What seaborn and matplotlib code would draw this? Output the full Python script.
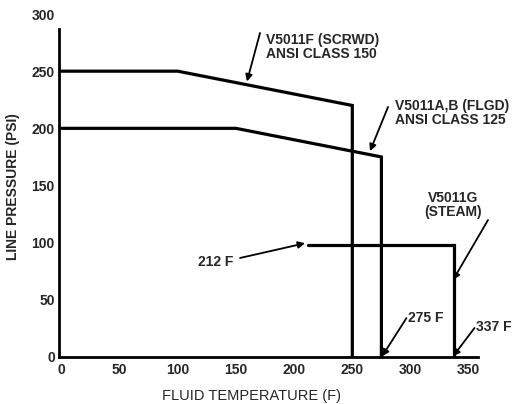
import numpy as np
import pandas as pd
import seaborn as sns
import matplotlib.pyplot as plt

sns.set_style("white")
plt.rcParams['font.family'] = ['Liberation Sans', 'DejaVu Sans']

# pressure/temperature ratings
scrwd_temp = [0, 100, 250, 250]
scrwd_psi = [250, 250, 220, 0]
flgd_temp = [0, 150, 275, 275]
flgd_psi = [200, 200, 175, 0]
steam_temp = [212, 337, 337]
steam_psi = [98, 98, 0]

x_ticks = [0, 50, 100, 150, 200, 250, 300, 350]
y_ticks = [0, 50, 100, 150, 200, 250, 300]

fig = plt.figure(figsize=(5.14, 4.04), dpi=100)
ax = fig.add_axes([59 / 514, 1 - 357 / 404, 419 / 514, 343 / 404])

for t, p in [(scrwd_temp, scrwd_psi), (flgd_temp, flgd_psi), (steam_temp, steam_psi)]:
    df = pd.DataFrame({'temp': t, 'psi': p})
    sns.lineplot(data=df, x='temp', y='psi', sort=False, estimator=None,
                 color='black', linewidth=2.3, ax=ax, solid_joinstyle='miter')

ax.set_xlim(-2, 358)
ax.set_ylim(0, 300)
ax.set_xticks(x_ticks)
ax.set_yticks(y_ticks)
ax.tick_params(length=0, labelsize=10)
ax.tick_params(axis='y', pad=3)
ax.tick_params(axis='x', pad=4)
for lbl in ax.get_xticklabels() + ax.get_yticklabels():
    lbl.set_fontweight('bold')

sns.despine(ax=ax)
ax.spines['left'].set_bounds(0, 287)
for side in ['left', 'bottom']:
    ax.spines[side].set_linewidth(2.0)
    ax.spines[side].set_color('black')

ax.set_xlabel('FLUID TEMPERATURE (F)', fontsize=10.5)
ax.set_ylabel('LINE PRESSURE (PSI)', fontsize=10, fontweight='bold')
ax.xaxis.set_label_coords(0.459, -0.092)
ax.yaxis.set_label_coords(-0.093, 0.496)

arrow = dict(arrowstyle='-|>', color='black', lw=1.3, mutation_scale=10,
             shrinkA=0, shrinkB=0)
txt = dict(fontsize=10, fontweight='bold', linespacing=1.0)

# callout texts
ax.text(176, 271, 'V5011F (SCRWD)\nANSI CLASS 150', ha='left', va='center', **txt)
ax.text(287, 213, 'V5011A,B (FLGD)\nANSI CLASS 125', ha='left', va='center',
        clip_on=False, **txt)
ax.text(337, 133, 'V5011G\n(STEAM)', ha='center', va='center', **txt)
ax.text(147.5, 83, '212 F', ha='right', va='center', **txt)
ax.text(298, 34, '275 F', ha='left', va='center', **txt)
ax.text(356, 26, '337 F', ha='left', va='center', clip_on=False, **txt)

# callout arrows (tail, tip)
ax.annotate('', xy=(159.5, 241), xytext=(170.7, 283.4), arrowprops=arrow)
ax.annotate('', xy=(265.2, 180), xytext=(280.7, 218.7), arrowprops=arrow)
ax.annotate('', xy=(336.5, 67.3), xytext=(366.6, 119.8), arrowprops=arrow)
ax.annotate('', xy=(209.4, 99.5), xytext=(153.5, 86.6), arrowprops=arrow)
ax.annotate('', xy=(275.5, 0.5), xytext=(296.5, 34), arrowprops=arrow)
ax.annotate('', xy=(336.5, 0.5), xytext=(355, 25.4), arrowprops=arrow)

fig.savefig('out.png', dpi=100)
